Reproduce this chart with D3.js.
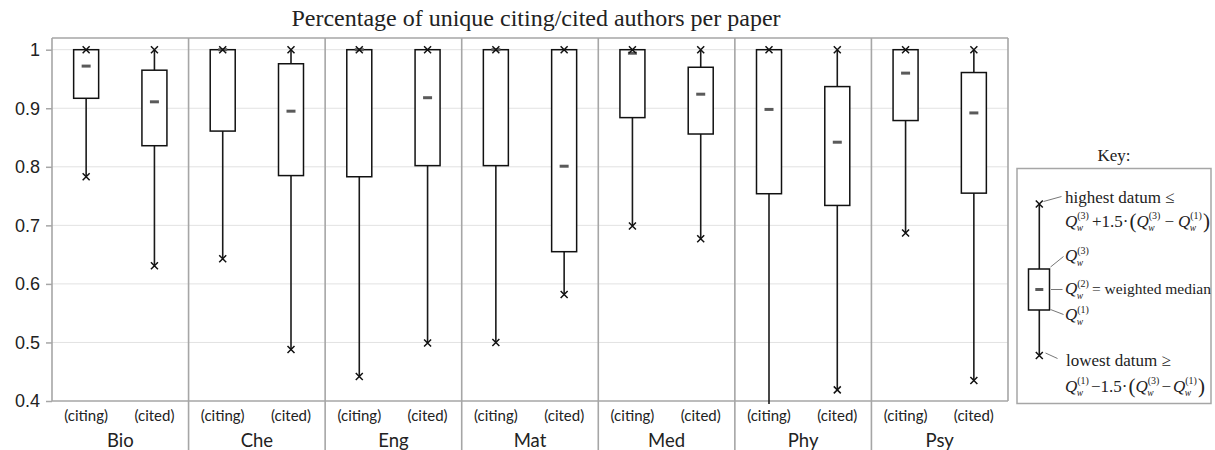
<!DOCTYPE html>
<html>
<head>
<meta charset="utf-8">
<script src="https://cdn.jsdelivr.net/npm/d3@7"></script>
<style>
body { margin: 0; background: #fff; }
svg { display: block; }
</style>
</head>
<body>
<svg id="chart" width="1215" height="450"></svg>
<script>
var categories = ["Bio", "Che", "Eng", "Mat", "Med", "Phy", "Psy"];
var roles = ["(citing)", "(cited)"];

// one value per box: Bio citing, Bio cited, Che citing, Che cited, ...
var lowest  = [0.783, 0.631, 0.643, 0.488, 0.442, 0.499, 0.500, 0.582, 0.699, 0.677, 0.395, 0.419, 0.687, 0.435];
var q1      = [0.917, 0.836, 0.861, 0.785, 0.783, 0.802, 0.802, 0.655, 0.884, 0.856, 0.754, 0.734, 0.879, 0.755];
var median  = [0.972, 0.911, 1.000, 0.895, 1.000, 0.918, 1.000, 0.801, 0.994, 0.924, 0.898, 0.842, 0.960, 0.892];
var q3      = [1.000, 0.965, 1.000, 0.976, 1.000, 1.000, 1.000, 1.000, 1.000, 0.970, 1.000, 0.937, 1.000, 0.961];
var highest = [1.000, 1.000, 1.000, 1.000, 1.000, 1.000, 1.000, 1.000, 1.000, 1.000, 1.000, 1.000, 1.000, 1.000];

var yTicks = [0.4, 0.5, 0.6, 0.7, 0.8, 0.9, 1];
var yTickLabels = ["0.4", "0.5", "0.6", "0.7", "0.8", "0.9", "1"];

var title = "Percentage of unique citing/cited authors per paper";

var svg = d3.select("#chart");
var left = 52, right = 1008, bottom = 401;
var serif = "'Liberation Serif', 'Times New Roman', serif";
var sans = "Lato, 'Open Sans', sans-serif";
var frameColor = "#a6a6a6";

var boxes = [];
categories.forEach(function(c, i) {
    roles.forEach(function(r, j) {
        var k = i * 2 + j;
        boxes.push({key: c + r, cat: c, role: r, low: lowest[k], q1: q1[k], med: median[k], q3: q3[k], high: highest[k]});
    });
});

var x = d3.scaleBand().domain(boxes.map(function(d){ return d.key; })).range([left, right]);
var xg = d3.scaleBand().domain(categories).range([left, right]);
var y = d3.scaleLinear().domain([0.4, 1]).range([bottom, 49.7]);
var plotTop = y(1.02);

// gridlines
svg.append("g")
    .selectAll("line")
    .data(yTicks.filter(function(t){ return t > 0.4; }))
    .enter()
    .append("line")
    .attr("x1", left).attr("x2", right)
    .attr("y1", function(d){ return y(d); })
    .attr("y2", function(d){ return y(d); })
    .attr("stroke", "#e2e2e2")
    .attr("stroke-width", 1);

// y axis
var yAxis = svg.append("g")
    .attr("transform", "translate(" + left + ",0)")
    .call(d3.axisLeft(y)
        .tickValues(yTicks)
        .tickFormat(function(d, i){ return yTickLabels[i]; })
        .tickSize(6)
        .tickPadding(6));
yAxis.select(".domain").remove();
yAxis.selectAll(".tick line").attr("stroke", frameColor).attr("stroke-width", 1.5);
yAxis.selectAll(".tick text")
    .attr("font-family", "'Liberation Sans', Arial, sans-serif")
    .attr("font-size", 18)
    .attr("fill", "#222");

// frame
var frame = svg.append("g").attr("stroke", frameColor).attr("stroke-width", 1.6);
frame.append("line").attr("x1", left).attr("x2", right).attr("y1", plotTop).attr("y2", plotTop);
frame.append("line").attr("x1", left).attr("x2", right).attr("y1", bottom).attr("y2", bottom);
frame.append("line").attr("x1", left).attr("x2", left).attr("y1", plotTop).attr("y2", bottom);
frame.append("line").attr("x1", right).attr("x2", right).attr("y1", plotTop).attr("y2", bottom);

// group separators run down through the labels
frame.selectAll(".sep")
    .data(categories.slice(1))
    .enter()
    .append("line")
    .attr("x1", function(d){ return xg(d); })
    .attr("x2", function(d){ return xg(d); })
    .attr("y1", plotTop).attr("y2", 450);

// boxes
var bw = 25;
var g = svg.append("g");
var box = g.selectAll(".box")
    .data(boxes)
    .enter()
    .append("g")
    .attr("transform", function(d){ return "translate(" + (x(d.key) + x.bandwidth() / 2) + ",0)"; });

box.append("line")
    .attr("y1", function(d){ return y(d.high); })
    .attr("y2", function(d){ return y(d.low); })
    .attr("stroke", "#1a1a1a")
    .attr("stroke-width", 1.6);

box.append("rect")
    .attr("x", -bw / 2)
    .attr("width", bw)
    .attr("y", function(d){ return y(d.q3); })
    .attr("height", function(d){ return y(d.q1) - y(d.q3); })
    .attr("fill", "#fff")
    .attr("stroke", "#111")
    .attr("stroke-width", 1.5);

box.append("line")
    .attr("x1", -4.5).attr("x2", 4.5)
    .attr("y1", function(d){ return y(d.med); })
    .attr("y2", function(d){ return y(d.med); })
    .attr("stroke", "#5a5a5a")
    .attr("stroke-width", 3);

var cross = "M-3.5,-3.5L3.5,3.5M-3.5,3.5L3.5,-3.5";
box.append("path")
    .attr("d", cross)
    .attr("transform", function(d){ return "translate(0," + y(d.high) + ")"; })
    .attr("stroke", "#111").attr("stroke-width", 1.5).attr("fill", "none");
box.filter(function(d){ return d.low >= 0.4; })
    .append("path")
    .attr("d", cross)
    .attr("transform", function(d){ return "translate(0," + y(d.low) + ")"; })
    .attr("stroke", "#111").attr("stroke-width", 1.5).attr("fill", "none");

// category labels
box.append("text")
    .attr("y", 421)
    .attr("text-anchor", "middle")
    .attr("font-family", sans)
    .attr("font-size", 15)
    .attr("fill", "#222")
    .text(function(d){ return d.role; });

svg.append("g")
    .selectAll("text")
    .data(categories)
    .enter()
    .append("text")
    .attr("x", function(d){ return xg(d) + xg.bandwidth() / 2; })
    .attr("y", 447)
    .attr("text-anchor", "middle")
    .attr("font-family", sans)
    .attr("font-size", 18.5)
    .attr("fill", "#222")
    .text(function(d){ return d; });

// title
svg.append("text")
    .attr("x", 536).attr("y", 25.5)
    .attr("text-anchor", "middle")
    .attr("font-family", serif)
    .attr("font-size", 24)
    .attr("fill", "#222")
    .text(title);

// key
var key = svg.append("g").attr("font-family", serif).attr("fill", "#222");
key.append("text").attr("x", 1114).attr("y", 161).attr("text-anchor", "middle").attr("font-size", 17).text("Key:");
key.append("rect").attr("x", 1017).attr("y", 168.5).attr("width", 194).attr("height", 235)
    .attr("fill", "#fff").attr("stroke", frameColor).attr("stroke-width", 1.5);

key.append("line").attr("x1", 1039.3).attr("x2", 1039.3).attr("y1", 204).attr("y2", 355.5)
    .attr("stroke", "#1a1a1a").attr("stroke-width", 1.6);
key.append("rect").attr("x", 1028.5).attr("y", 269).attr("width", 21).attr("height", 41)
    .attr("fill", "#fff").attr("stroke", "#111").attr("stroke-width", 1.5);
key.append("line").attr("x1", 1035.3).attr("x2", 1043.3).attr("y1", 289.5).attr("y2", 289.5)
    .attr("stroke", "#5a5a5a").attr("stroke-width", 3);
[204, 355.5].forEach(function(v) {
    key.append("path").attr("d", cross).attr("transform", "translate(1039.3," + v + ")")
        .attr("stroke", "#111").attr("stroke-width", 1.5).attr("fill", "none");
});

var leaders = [[1043.5, 201.5, 1061.5, 196.5], [1050.5, 267, 1063.5, 256.5], [1051, 289.5, 1062.5, 289.5],
               [1050.5, 309.5, 1063.5, 314.5], [1045.5, 353, 1057.5, 358.5]];
leaders.forEach(function(l) {
    key.append("line").attr("x1", l[0]).attr("y1", l[1]).attr("x2", l[2]).attr("y2", l[3])
        .attr("stroke", "#777").attr("stroke-width", 1);
});

function piece(x0, yb, str, size, italic) {
    var t = key.append("text").attr("x", x0).attr("y", yb).attr("font-size", size).text(str);
    if (italic) t.attr("font-style", "italic");
    return x0 + t.node().getComputedTextLength();
}

// Q with subscript w and a bracketed superscript, stacked
function qTerm(x0, yb, n) {
    var xq = piece(x0, yb, "Q", 17, true);
    var a = piece(xq, yb - 7.5, "(" + n + ")", 10, false);
    var b = piece(xq - 0.5, yb + 4.5, "w", 9.5, true);
    return Math.max(a, b);
}

piece(1065, 202.5, "highest datum \u2264", 17, false);
var cx = qTerm(1065, 226.5, 3);
cx = piece(cx + 3, 226.5, "+1.5\u00b7", 17, false);
cx = piece(cx + 1, 227.5, "(", 21, false);
cx = qTerm(cx, 226.5, 3);
cx = piece(cx + 4, 226.5, "\u2212", 17, false);
cx = qTerm(cx + 4, 226.5, 1);
piece(cx + 1, 227.5, ")", 21, false);

qTerm(1065, 261, 3);
cx = qTerm(1065, 294, 2);
piece(cx + 3, 294, "= weighted median", 15.5, false);
qTerm(1065, 320, 1);

piece(1066, 366, "lowest datum \u2265", 17, false);
cx = qTerm(1065, 391.5, 1);
cx = piece(cx + 2, 391.5, "\u22121.5\u00b7", 17, false);
cx = piece(cx + 1, 392.5, "(", 21, false);
cx = qTerm(cx, 391.5, 3);
cx = piece(cx + 2, 391.5, "\u2212", 17, false);
cx = qTerm(cx + 2, 391.5, 1);
piece(cx + 1, 392.5, ")", 21, false);
</script>
</body>
</html>
